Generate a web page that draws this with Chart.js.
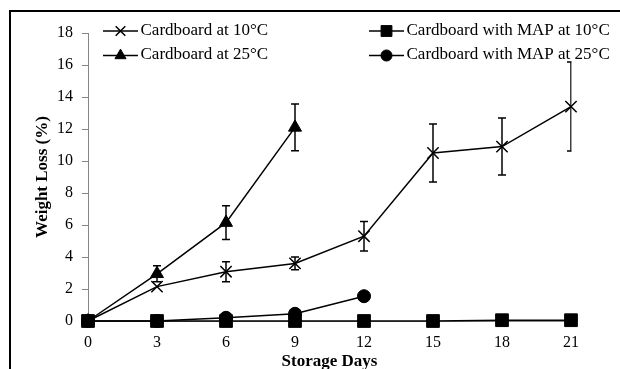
<!DOCTYPE html>
<html>
<head>
<meta charset="utf-8">
<script src="https://cdn.jsdelivr.net/npm/chart.js@4/dist/chart.umd.min.js"></script>
<style>
  html, body { margin: 0; padding: 0; background: #fff; }
  canvas { display: block; }
</style>
</head>
<body>
<canvas id="c" width="620" height="369"></canvas>
<script>
// Storage days (x axis) and tick values
const days = [0, 3, 6, 9, 12, 15, 18, 21];
const yTicks = [0, 2, 4, 6, 8, 10, 12, 14, 16, 18];

// Weight loss (%) per series, with standard-deviation error bars
const cardboard10 = [0, 2.15, 3.08, 3.6, 5.3, 10.5, 10.9, 13.4];
const cardboard10Err = [0, 0, 0.62, 0.4, 0.92, 1.82, 1.78, 2.78];

const cardboard25 = [0, 2.95, 6.15, 12.1];
const cardboard25Err = [0, 0.5, 1.05, 1.46];

const map10 = [0, 0, 0, 0, 0, 0, 0.05, 0.05];

const map25 = [0, 0, 0.2, 0.45, 1.55];

const seriesLabels = [
  'Cardboard at 10°C',
  'Cardboard at 25°C',
  'Cardboard with MAP at 10°C',
  'Cardboard with MAP at 25°C'
];

const FONT = '"Liberation Serif", "Times New Roman", Times, serif';

function points(values) {
  return values.map((v, i) => ({ x: days[i], y: v }));
}

function series(label, values, errs, style, radius) {
  return {
    label: label,
    data: points(values),
    errors: errs,
    borderColor: '#000',
    backgroundColor: '#000',
    borderWidth: 1.5,
    tension: 0,
    pointStyle: style,
    pointRadius: radius,
    pointHoverRadius: radius,
    pointBorderColor: '#000',
    pointBackgroundColor: '#000',
    pointBorderWidth: style === 'crossRot' ? 1.5 : 1,
    clip: false
  };
}

const datasets = [
  series(seriesLabels[0], cardboard10, cardboard10Err, 'crossRot', 8),
  series(seriesLabels[1], cardboard25, cardboard25Err, 'triangle', 7.5),
  series(seriesLabels[2], map10, null, 'rect', 9),
  series(seriesLabels[3], map25, null, 'circle', 6.5)
];

// Frame lines along the left and top edges
const framePlugin = {
  id: 'frame',
  beforeDraw(chart) {
    const ctx = chart.ctx;
    ctx.save();
    ctx.fillStyle = '#fff';
    ctx.fillRect(0, 0, chart.width, chart.height);
    ctx.fillStyle = '#000';
    ctx.fillRect(9, 10, 2, chart.height - 10);
    ctx.fillRect(9, 10, chart.width - 9, 2);
    ctx.restore();
  }
};

// Vertical error bars with caps
const errorBarPlugin = {
  id: 'errorBars',
  afterDatasetsDraw(chart) {
    const ctx = chart.ctx;
    const xs = chart.scales.x, ys = chart.scales.y;
    const area = chart.chartArea;
    ctx.save();
    ctx.beginPath();
    ctx.rect(area.left - 10, 0, area.right - area.left + 10.5, chart.height);
    ctx.clip();
    ctx.strokeStyle = '#000';
    ctx.lineWidth = 1.5;
    chart.data.datasets.forEach(ds => {
      if (!ds.errors) return;
      ds.data.forEach((p, i) => {
        const e = ds.errors[i];
        if (!e) return;
        const x = xs.getPixelForValue(p.x);
        const yt = ys.getPixelForValue(p.y + e);
        const yb = ys.getPixelForValue(p.y - e);
        const cap = 4;
        ctx.beginPath();
        ctx.moveTo(x, yt); ctx.lineTo(x, yb);
        ctx.moveTo(x - cap, yt); ctx.lineTo(x + cap, yt);
        ctx.moveTo(x - cap, yb); ctx.lineTo(x + cap, yb);
        ctx.stroke();
      });
    });
    ctx.restore();
  }
};

// Two-column legend: line sample with marker, then the label
const legendPlugin = {
  id: 'sampleLegend',
  afterDraw(chart) {
    const ctx = chart.ctx;
    const cols = [103, 369];
    const rows = [31, 55.5];
    const sampleLen = 35;
    ctx.save();
    ctx.font = '17px ' + FONT;
    ctx.textBaseline = 'middle';
    ctx.textAlign = 'left';
    chart.data.datasets.forEach((ds, i) => {
      const x0 = cols[Math.floor(i / 2)];
      const y = rows[i % 2];
      ctx.strokeStyle = '#000';
      ctx.fillStyle = '#000';
      ctx.lineWidth = 1.5;
      ctx.beginPath();
      ctx.moveTo(x0, y);
      ctx.lineTo(x0 + sampleLen, y);
      ctx.stroke();
      const r = ds.pointRadius * 0.85;
      ctx.lineWidth = ds.pointBorderWidth;
      Chart.helpers.drawPoint(ctx, {
        pointStyle: ds.pointStyle, radius: r, rotation: 0, borderWidth: ds.pointBorderWidth
      }, x0 + sampleLen / 2, y);
      ctx.fillStyle = '#000';
      ctx.fillText(ds.label, x0 + sampleLen + 2.5, y - 0.5);
    });
    ctx.restore();
  }
};

new Chart(document.getElementById('c'), {
  type: 'line',
  data: { datasets: datasets },
  options: {
    responsive: false,
    devicePixelRatio: 1,
    animation: false,
    events: [],
    layout: { padding: { top: 33, right: 49, left: 0, bottom: 0 } },
    plugins: {
      legend: { display: false },
      tooltip: { enabled: false }
    },
    scales: {
      x: {
        type: 'linear',
        min: days[0],
        max: days[days.length - 1],
        afterBuildTicks(scale) { scale.ticks = days.map(v => ({ value: v })); },
        afterFit(scale) { scale.height = 48; },
        grid: { display: false, drawTicks: false },
        border: { display: true, color: '#868686', width: 1 },
        ticks: {
          color: '#000',
          padding: 12,
          maxRotation: 0,
          font: { family: FONT, size: 16 }
        },
        title: {
          display: true,
          text: 'Storage Days',
          color: '#000',
          font: { family: FONT, size: 17, weight: 'bold' },
          padding: { top: 0, bottom: -3 }
        }
      },
      y: {
        type: 'linear',
        min: yTicks[0],
        max: yTicks[yTicks.length - 1],
        afterBuildTicks(scale) { scale.ticks = yTicks.map(v => ({ value: v })); },
        afterFit(scale) { scale.width = 88; },
        grid: {
          display: true,
          drawOnChartArea: false,
          drawTicks: true,
          tickLength: 6,
          color: '#868686',
          tickColor: '#868686'
        },
        border: { display: true, color: '#868686', width: 1 },
        ticks: {
          color: '#000',
          padding: 9,
          font: { family: FONT, size: 16 }
        },
        title: {
          display: true,
          text: 'Weight Loss (%)',
          color: '#000',
          font: { family: FONT, size: 17, weight: 'bold' },
          padding: { top: 32, bottom: 0 }
        }
      }
    }
  },
  plugins: [framePlugin, errorBarPlugin, legendPlugin]
});
</script>
</body>
</html>
